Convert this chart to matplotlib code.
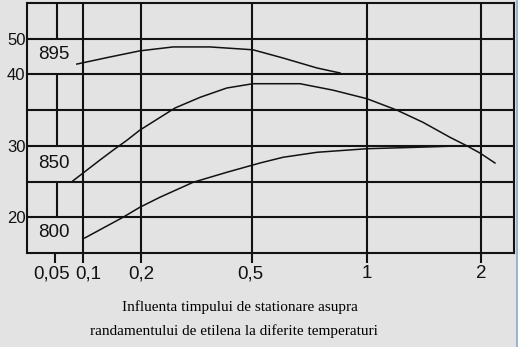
import numpy as np
import matplotlib.pyplot as plt
from matplotlib.lines import Line2D
from matplotlib.transforms import ScaledTranslation

# Axis ticks (the original sheet has uneven spacing on both axes)
x_ticks = [0.05, 0.1, 0.2, 0.5, 1, 2]
x_labels = ['0,05', '0,1', '0,2', '0,5', '1', '2']
x_grid = [0.1, 0.2, 0.5, 1, 2]
y_grid = [20, 25, 30, 35, 40, 50]
y_labels = ['20', '', '30', '', '40', '50']

# Curves: time of stationing vs. ethylene yield, per temperature
t_895 = [0.089, 0.147, 0.198, 0.287, 0.386, 0.504, 0.635, 0.783, 0.883]
y_895 = [42.9, 44.9, 46.6, 47.7, 47.7, 46.9, 44.6, 41.8, 40.4]

t_850 = [0.082, 0.129, 0.152, 0.176, 0.198, 0.292, 0.360, 0.432, 0.504, 0.709,
         0.852, 1.0, 1.263, 1.491, 1.728, 1.877, 1.991, 2.123]
y_850 = [25.1, 28.0, 29.4, 30.8, 32.2, 35.3, 36.8, 38.1, 38.7, 38.7,
         37.8, 36.6, 35.0, 33.3, 31.2, 30.0, 29.0, 27.6]

t_800 = [0.103, 0.169, 0.198, 0.251, 0.341, 0.432, 0.535, 0.635, 0.783, 1.0,
         1.439, 1.816, 2.29]
y_800 = [17.1, 20.0, 21.4, 22.8, 24.9, 26.3, 27.6, 28.4, 29.1, 29.6,
         29.8, 30.0, 30.0]

temps = ['895', '850', '800']
label_pos = [(0.048, 45.5), (0.048, 27.5), (0.048, 17.9)]

# piecewise mapping of the hand drawn scales
XV = [0, 0.05, 0.1, 0.2, 0.5, 1, 2, 3]
XP = [0, 28, 56, 114, 225, 340, 454, 568]
YV = [15, 20, 30, 40, 50, 60]
YG = [0, 1, 3, 5, 6, 7]

bg = '#e3e3e3'
ink = '#121212'

fig = plt.figure(figsize=(5.18, 3.47), dpi=100, facecolor=bg)
ax = fig.add_axes([27 / 518, 94 / 347, 487 / 518, 250 / 347], facecolor=bg)

ax.set_xscale('function', functions=(lambda v: np.interp(v, XV, XP),
                                     lambda p: np.interp(p, XP, XV)))
ax.set_yscale('function', functions=(lambda v: np.interp(v, YV, YG),
                                     lambda g: np.interp(g, YG, YV)))
ax.set_xlim(0, 2.29)
ax.set_ylim(15, 60)

# grid
ax.set_yticks(y_grid, labels=y_labels)
ax.grid(axis='y', color=ink, linewidth=1.5)
for xv in x_grid:
    ax.axvline(xv, color=ink, linewidth=1.5)
ax.vlines([0.0536] * 3, [50, 30, 20], [60, 40, 25], color=ink, linewidth=1.5)

ax.set_xticks(x_ticks, labels=x_labels)
ax.tick_params(axis='x', length=7, width=1.5, color=ink, pad=2,
               labelsize=13.5, labelcolor=ink)
ax.tick_params(axis='y', length=0, pad=1, labelsize=12, labelcolor=ink)
for lab in ax.get_xticklabels() + ax.get_yticklabels():
    lab.set_fontfamily('Liberation Sans')

# the first two labels sit a little apart in the original
shifts = [-3, 5, 0, -2, 0, 0]
for lab, dx in zip(ax.get_xticklabels(), shifts):
    lab.set_transform(lab.get_transform() + ScaledTranslation(dx / 100, 0, fig.dpi_scale_trans))

for sp in ax.spines.values():
    sp.set_linewidth(1.5)
    sp.set_color(ink)

# curves
for t, y in [(t_895, y_895), (t_850, y_850), (t_800, y_800)]:
    ax.plot(t, y, color=ink, linewidth=1.1)

for name, (xv, yv) in zip(temps, label_pos):
    ax.text(xv, yv, name, ha='center', va='center', fontsize=13.5,
            family='Liberation Sans', color=ink)

fig.text(0.463, 0.115, 'Influenta timpului de stationare asupra',
         ha='center', va='center', fontsize=11, family='Liberation Serif', color='black')
fig.text(0.452, 0.046, 'randamentului de etilena la diferite temperaturi',
         ha='center', va='center', fontsize=11, family='Liberation Serif', color='black')

# window edge on the right
fig.add_artist(Line2D([516.5 / 518, 516.5 / 518], [0, 1], color='#9db4d0', linewidth=1.5))

fig.savefig('out.png', dpi=100, facecolor=bg)
